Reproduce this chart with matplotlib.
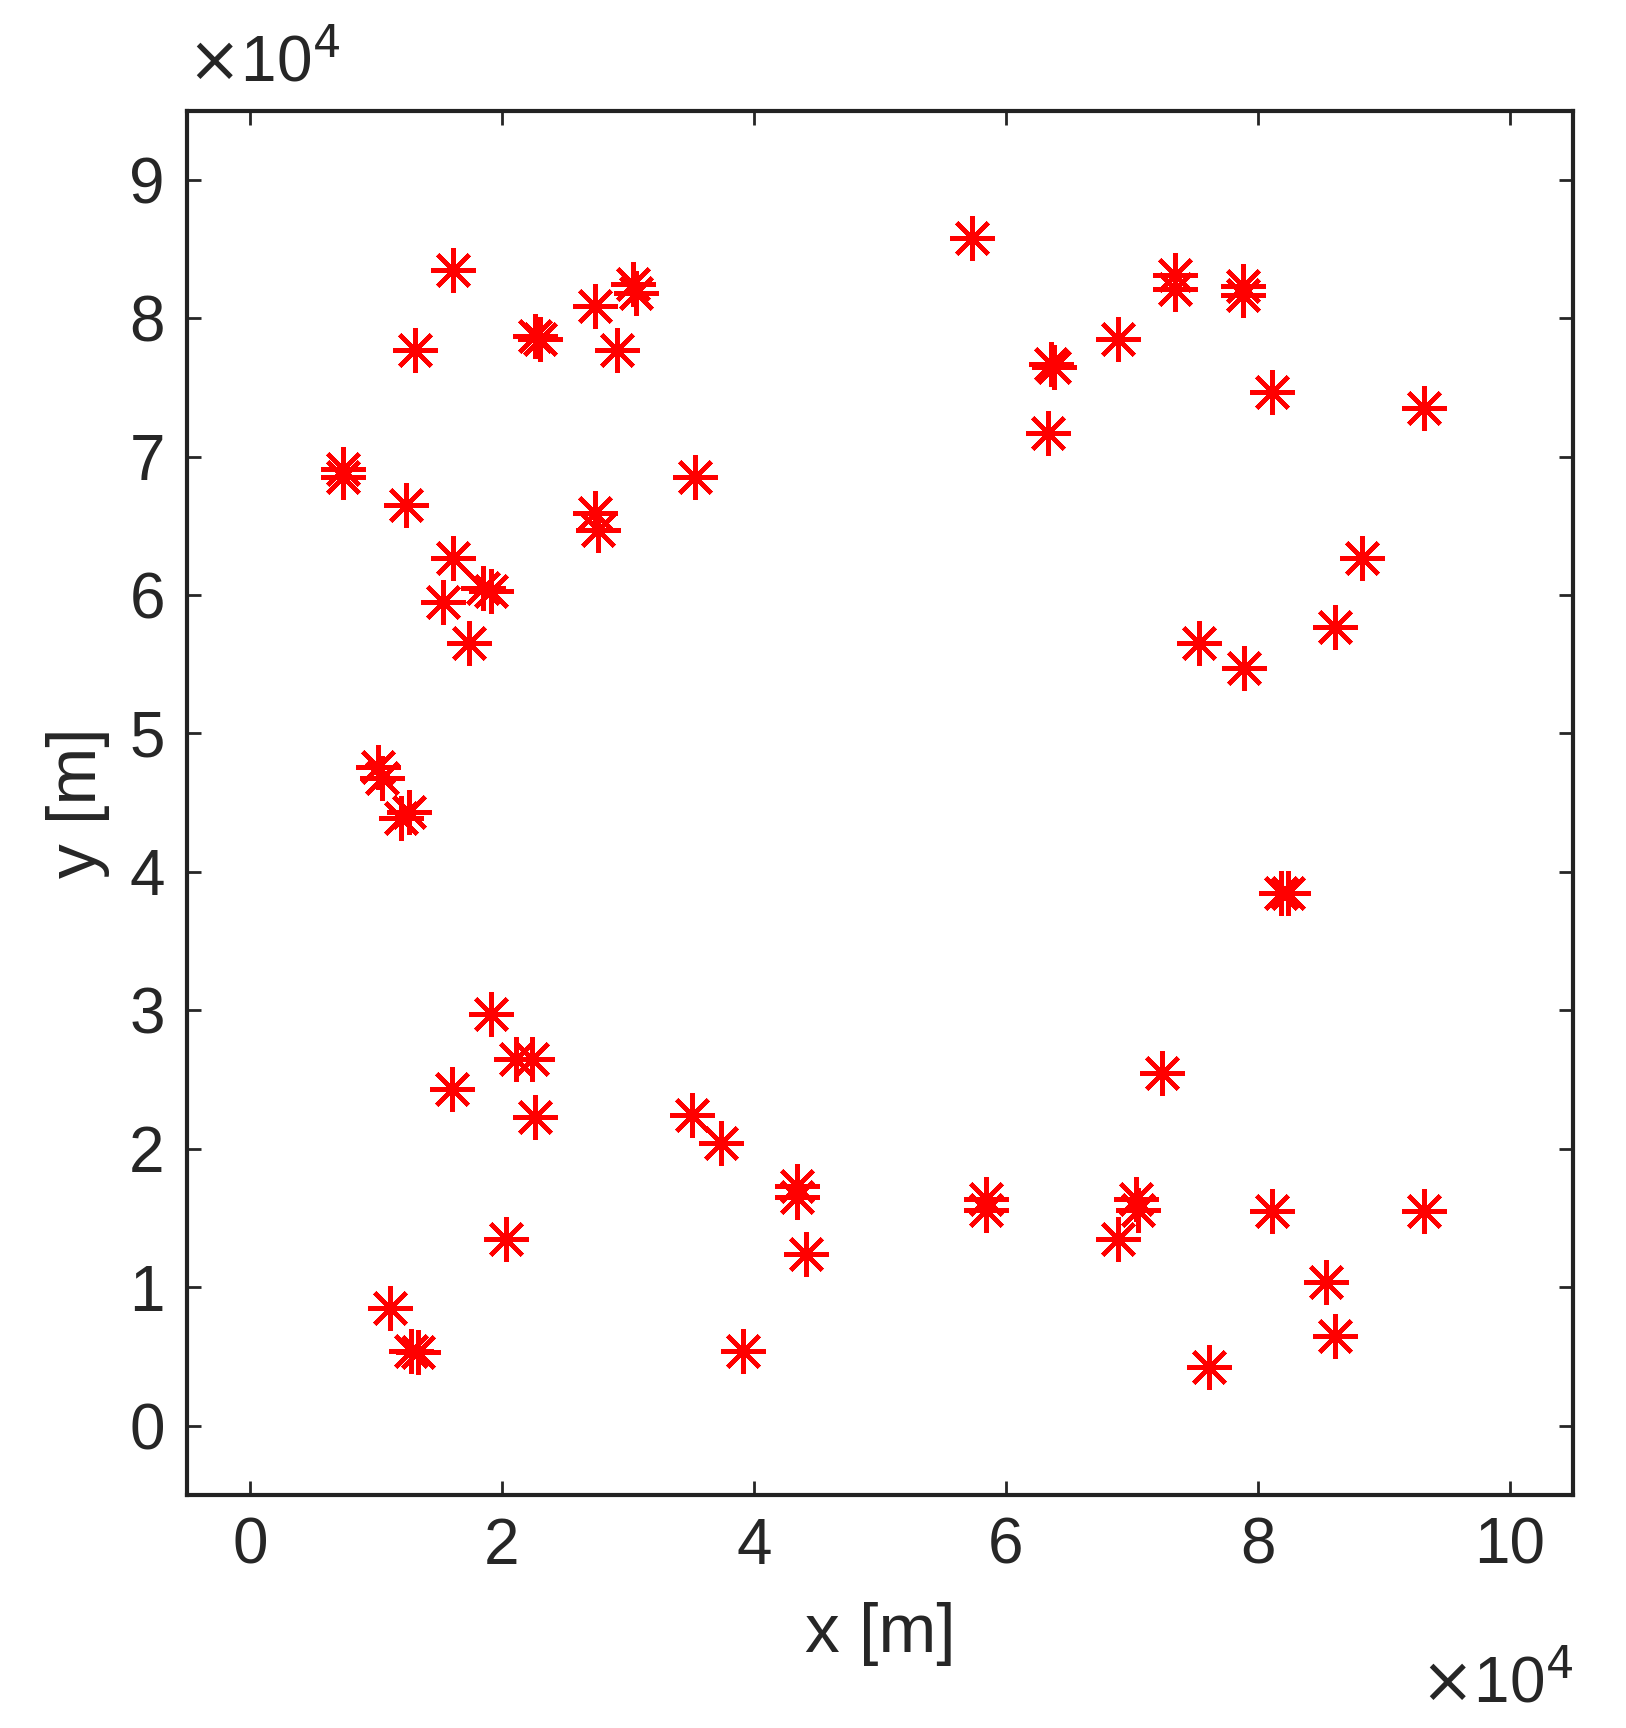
import matplotlib
matplotlib.use("Agg")
import matplotlib.pyplot as plt

x = [1.61,1.31,2.26,2.30,2.74,3.04,3.06,2.91,0.74,0.74,1.24,1.61,1.53,1.85,1.91,1.74,2.74,2.76,3.53,
     1.02,1.05,1.20,1.26,1.91,2.11,2.24,2.26,1.60,3.51,3.74,4.34,4.34,4.41,2.03,1.11,1.28,1.33,3.91,
     5.73,6.36,6.38,6.33,6.89,7.34,7.34,7.88,7.88,8.11,9.32,8.83,8.61,7.53,7.89,8.18,8.24,7.24,
     5.84,5.84,7.03,7.05,6.89,8.11,9.32,8.54,8.61,7.61]
y = [8.35,7.77,7.87,7.85,8.09,8.25,8.18,7.77,6.91,6.85,6.65,6.27,5.95,6.05,6.03,5.65,6.59,6.47,6.85,
     4.76,4.68,4.39,4.43,2.97,2.65,2.65,2.23,2.43,2.24,2.04,1.73,1.65,1.24,1.35,0.85,0.54,0.53,0.54,
     8.58,7.67,7.65,7.17,7.85,8.31,8.21,8.23,8.17,7.47,7.35,6.27,5.77,5.65,5.47,3.85,3.85,2.55,
     1.64,1.56,1.64,1.56,1.35,1.55,1.55,1.04,0.65,0.42]
x = [v*1e4 for v in x]
y = [v*1e4 for v in y]
xticks = list(range(0, 11, 2))
yticks = list(range(0, 10))

plt.rcParams['font.family'] = ['Liberation Sans', 'DejaVu Sans']
tc = '#262626'
fig = plt.figure(figsize=(16.26, 17.28), dpi=100)
ax = fig.add_axes([0.115, 0.135, 0.866*0.99-0.005, 0.801])
ax.plot(x, y, linestyle='none', marker=(8, 2, 0), ms=32, mew=3.2, color='red')
ax.set_xlim(-0.5e4, 10.5e4)
ax.set_ylim(-0.5e4, 9.5e4)
ax.set_xticks([v*1e4 for v in xticks])
ax.set_xticklabels([str(v) for v in xticks])
ax.set_yticks([v*1e4 for v in yticks])
ax.set_yticklabels([str(v) for v in yticks])
ax.tick_params(direction='in', top=True, right=True, length=10, width=2, labelsize=46, colors=tc, pad=16)
for s in ax.spines.values():
    s.set_linewidth(3)
    s.set_color('#222222')
ax.set_xlabel('x [m]', fontsize=50, color=tc, labelpad=18)
ax.set_ylabel('y [m]', fontsize=50, color=tc, labelpad=14)
ax.text(0.0, 1.012, r'$\times$10$^4$', transform=ax.transAxes, fontsize=46, color=tc, ha='left', va='bottom')
ax.text(1.0, -0.115, r'$\times$10$^4$', transform=ax.transAxes, fontsize=46, color=tc, ha='right', va='top')
fig.savefig('out.png', dpi=100, facecolor='white')
